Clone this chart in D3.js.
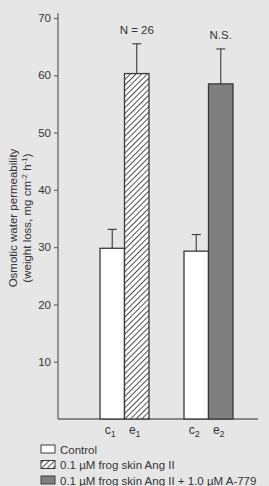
<!DOCTYPE html>
<html>
<head>
<meta charset="utf-8">
<script src="https://cdn.jsdelivr.net/npm/d3@7"></script>
<style>
  html, body { margin: 0; padding: 0; background: #e6e6e6; }
  svg { display: block; font-family: "Liberation Sans", Arial, sans-serif; }
</style>
</head>
<body>
<div id="chart"></div>
<script>
// ---- data ----
const groups = ["1", "2"];
const controlMeans = [29.8, 29.3];
const controlErr = [3.3, 2.9];
const treatMeans = [60.3, 58.5];
const treatErr = [5.2, 6.1];
const groupNotes = ["N = 26", "N.S."];
const yTicks = [10, 20, 30, 40, 50, 60, 70];
const legendLabels = ["Control", "0.1 \u00b5M frog skin Ang II", "0.1 \u00b5M frog skin Ang II + 1.0 \u00b5M A-779"];

const width = 269, height = 486;
const svg = d3.select("#chart").append("svg")
  .attr("width", width).attr("height", height);

const defs = svg.append("defs");
const pat = defs.append("pattern")
  .attr("id", "hatch").attr("patternUnits", "userSpaceOnUse")
  .attr("width", 4).attr("height", 4)
  .attr("patternTransform", "rotate(45)");
pat.append("rect").attr("width", 4).attr("height", 4).attr("fill", "#fff");
pat.append("line").attr("x1", 0).attr("y1", 0).attr("x2", 0).attr("y2", 4)
  .attr("stroke", "#222").attr("stroke-width", 1.6);

// ---- scales ----
const y = d3.scaleLinear().domain([0, 70]).range([419, 18]);
const xGroup = d3.scaleBand().domain(groups).range([100, 233]).paddingInner(0.4167).paddingOuter(0);
const barW = xGroup.bandwidth() / 2;

// bar records built from arrays
const bars = [];
groups.forEach((g, i) => {
  bars.push({ g, kind: "c", v: controlMeans[i], e: controlErr[i], x: xGroup(g), lab: "c" });
  bars.push({ g, kind: i === 0 ? "h" : "d", v: treatMeans[i], e: treatErr[i], x: xGroup(g) + barW, lab: "e" });
});
const fillOf = k => k === "c" ? "#fff" : k === "h" ? "url(#hatch)" : "#7f7f7f";

// ---- axes ----
const axisCol = "#666";
svg.append("line").attr("x1", 58).attr("x2", 58).attr("y1", y(0)).attr("y2", y(70) - 5)
  .attr("stroke", axisCol).attr("stroke-width", 1.3);
svg.append("line").attr("x1", 58).attr("x2", 258).attr("y1", y(0)).attr("y2", y(0))
  .attr("stroke", axisCol).attr("stroke-width", 1.3);

const yAxis = svg.append("g").attr("transform", "translate(58,0)")
  .call(d3.axisLeft(y).tickValues(yTicks).tickSize(4).tickPadding(3));
yAxis.select(".domain").remove();
yAxis.selectAll("line").attr("stroke", axisCol).attr("stroke-width", 1.2);
yAxis.selectAll("text").attr("fill", "#333").style("font-size", "11.5px")
  .style("font-family", "Liberation Sans, Arial, sans-serif");

// ---- error bars ----
const eb = svg.append("g");
bars.forEach(d => {
  const cx = d.x + barW / 2;
  eb.append("line").attr("x1", cx).attr("x2", cx).attr("y1", y(d.v)).attr("y2", y(d.v + d.e))
    .attr("stroke", "#444").attr("stroke-width", 1.2);
  eb.append("line").attr("x1", cx - 4.5).attr("x2", cx + 4.5).attr("y1", y(d.v + d.e)).attr("y2", y(d.v + d.e))
    .attr("stroke", "#444").attr("stroke-width", 1.2);
});

// ---- bars ----
svg.append("g").selectAll("rect").data(bars).join("rect")
  .attr("x", d => d.x).attr("width", barW)
  .attr("y", d => y(d.v)).attr("height", d => y(0) - y(d.v))
  .attr("fill", d => fillOf(d.kind))
  .attr("stroke", "#3a3a3a").attr("stroke-width", 1.3);

// ---- labels ----
const lab = svg.append("g").attr("fill", "#333").style("font-size", "12px");
bars.forEach(d => {
  const t = lab.append("text").attr("x", d.x + barW / 2 - 2).attr("y", 434).attr("text-anchor", "middle");
  t.append("tspan").text(d.lab);
  t.append("tspan").attr("dy", 3).style("font-size", "9px").text(d.g);
});
groupNotes.forEach((n, i) => {
  const bx = xGroup(groups[i]) + barW * 1.5;
  const top = y(treatMeans[i] + treatErr[i]);
  lab.append("text").attr("x", bx).attr("y", top - 10).attr("text-anchor", "middle")
    .style("font-size", "11.5px").text(n);
});

// y title
const yt = svg.append("g").attr("transform", "translate(0,218) rotate(-90)")
  .attr("fill", "#333").style("font-size", "11.5px").attr("text-anchor", "middle");
yt.append("text").attr("x", 0).attr("y", 17).text("Osmotic water permeability");
const t2 = yt.append("text").attr("x", 0).attr("y", 31);
t2.append("tspan").text("(weight loss, mg cm");
t2.append("tspan").attr("dy", -4).style("font-size", "8px").text("-2");
t2.append("tspan").attr("dy", 4).text(" h");
t2.append("tspan").attr("dy", -4).style("font-size", "8px").text("-1");
t2.append("tspan").attr("dy", 4).text(")");

// ---- legend ----
const lg = svg.append("g");
legendLabels.forEach((l, i) => {
  const yy = 445 + i * 15.5;
  lg.append("rect").attr("x", 41).attr("y", yy).attr("width", 14).attr("height", 8)
    .attr("fill", fillOf(["c", "h", "d"][i])).attr("stroke", "#3a3a3a").attr("stroke-width", 1);
  lg.append("text").attr("x", 60).attr("y", yy + 8.5).attr("fill", "#333")
    .style("font-size", "11.5px").text(l);
});
</script>
</body>
</html>
